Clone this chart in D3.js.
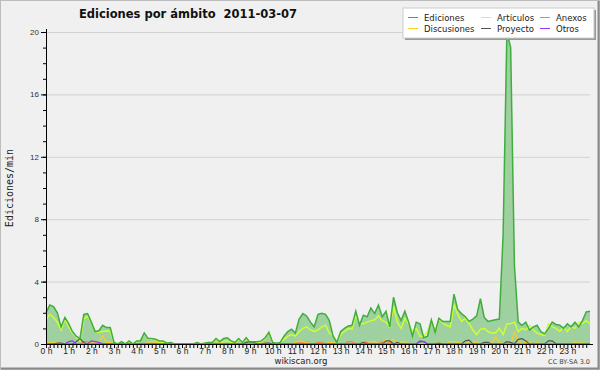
<!DOCTYPE html>
<html>
<head>
<meta charset="utf-8">
<script src="https://cdn.jsdelivr.net/npm/d3@7"></script>
<style>
  body { margin: 0; background: #f0f0f0; }
  svg { display: block; font-family: "DejaVu Sans", sans-serif; }
</style>
</head>
<body>
<svg width="600" height="370"></svg>
<script>
// valores cada 10 minutos (0 h ... 24 h)
const horas = d3.range(0, 24);
const yTicks = [0, 4, 8, 12, 16, 20];

const ediciones = [
  2.0, 2.5, 2.4, 2.0, 1.1, 1.7, 1.3, 0.8, 0.5, 0.35, 1.9, 1.95,
  1.4, 0.8, 0.85, 1.2, 1.05, 1.05, 0.1, 0.0, 0.15, 0.0, 0.2, 0.0,
  0.2, 0.2, 0.7, 0.35, 0.35, 0.3, 0.2, 0.2, 0.05, 0.1, 0, 0,
  0, 0, 0, 0, 0.1, 0, 0.05, 0.1, 0.1, 0.35, 0.15, 0.35,
  0.4, 0.2, 0.1, 0.35, 0.1, 0.4, 0.1, 0.15, 0.15, 0.2, 0.4, 0.75,
  0.1, 0.05, 0.1, 0.5, 0.8, 0.95, 0.7, 1.6, 1.95, 1.8, 1.4, 1.1,
  1.9, 1.97, 1.9, 1.5, 0.5, 0.1, 0.8, 1.0, 1.15, 1.2, 2.1, 1.2,
  1.85, 1.75, 2.3, 1.95, 2.5, 1.75, 2.1, 1.1, 3.0, 2.0, 1.5, 2.1,
  1.4, 0.5, 1.4, 1.3, 0.4, 0.5, 1.55, 0.75, 1.65, 1.45, 1.45, 1.45,
  3.2, 2.2, 1.95, 1.75, 1.45, 1.6, 1.8, 2.9, 1.7, 1.45, 1.5, 1.55,
  1.6, 7.0, 20.0, 19.0, 5.0, 1.4, 1.2, 1.4, 0.9, 1.1, 1.2, 0.8,
  0.65, 1.0, 1.4, 1.25, 1.2, 1.0, 1.3, 1.1, 1.4, 1.1, 1.5, 2.05,
  2.1
];
const articulos = [
  1.55, 1.9, 1.7, 1.4, 0.9, 1.6, 1.1, 0.7, 0.45, 0.2, 1.6, 1.8,
  1.35, 0.8, 0.75, 0.8, 0.85, 0.8, 0.05, 0, 0.1, 0, 0.15, 0,
  0.15, 0.2, 0.65, 0.3, 0.3, 0.25, 0.1, 0.1, 0.05, 0.1, 0, 0,
  0, 0, 0, 0, 0, 0, 0.05, 0.1, 0.1, 0.3, 0.1, 0.15,
  0.2, 0.1, 0.05, 0.3, 0.05, 0.3, 0.05, 0.1, 0.1, 0.15, 0.35, 0.75,
  0.05, 0, 0.1, 0.3, 0.5, 0.6, 0.5, 0.8, 1.0, 1.1, 0.9, 0.8,
  0.9, 1.1, 1.2, 0.7, 0.55, 0.1, 0.6, 0.8, 1.0, 0.95, 1.85, 1.3,
  1.3, 1.4, 1.5, 1.55, 1.8, 1.5, 1.4, 1.1, 2.4, 1.4, 1.0, 1.65,
  1.3, 0.8, 1.0, 0.5, 0.5, 0.8, 1.5, 0.8, 1.6, 1.35, 1.2, 1.1,
  2.5, 1.9, 1.45, 1.65, 1.3, 0.9, 0.6, 0.95, 1.0, 0.8, 0.7, 0.7,
  1.0, 0.6, 1.3, 1.3, 1.4, 0.8, 1.0, 0.9, 1.2, 0.9, 0.7, 0.6,
  0.55, 1.3, 1.1, 1.0, 0.8, 1.1, 0.8, 1.1, 1.0, 1.4, 1.3, 1.5,
  1.3
];
const discusiones = [
  0, 0.1, 0.15, 0.1, 0, 0, 0, 0, 0, 0, 0, 0,
  0.05, 0.05, 0.1, 0.55, 0.1, 0.1, 0, 0, 0, 0, 0, 0,
  0, 0, 0, 0.1, 0.15, 0.1, 0, 0, 0, 0, 0, 0,
  0, 0, 0, 0, 0.1, 0, 0, 0, 0, 0.05, 0.05, 0,
  0, 0, 0, 0, 0, 0, 0, 0, 0, 0, 0.1, 0,
  0, 0, 0, 0, 0, 0, 0.1, 0.2, 0.15, 0.1, 0, 0,
  0, 0, 0, 0.1, 0.1, 0, 0, 0, 0, 0, 0, 0,
  0, 0, 0.15, 0.15, 0, 0, 0.3, 0.2, 0.3, 0, 0.15, 0.15,
  0, 0, 0, 0, 0, 0, 0, 0, 0.1, 0, 0, 0.15,
  0.15, 0.1, 0, 0, 0.15, 0.15, 0.1, 0, 0, 0, 0.1, 0.45,
  0.1, 0, 0.1, 0, 0.75, 0.2, 0, 0.1, 0.1, 0, 0.1, 0,
  0, 0, 0, 0, 0, 0, 0, 0, 0.15, 0, 0.1, 0,
  0
];
const anexos = [
  0, 0, 0, 0, 0, 0, 0, 0, 0, 0, 0.15, 0.15,
  0, 0, 0, 0, 0, 0, 0, 0, 0, 0, 0, 0,
  0, 0, 0, 0, 0, 0, 0, 0, 0, 0, 0, 0,
  0, 0, 0, 0, 0, 0, 0, 0, 0, 0, 0, 0,
  0, 0, 0, 0, 0, 0, 0, 0, 0, 0, 0, 0,
  0, 0, 0, 0, 0, 0, 0, 0.15, 0.1, 0.15, 0, 0,
  0.1, 0.1, 0, 0, 0, 0, 0, 0, 0.15, 0.15, 0, 0,
  0.1, 0.1, 0, 0, 0, 0.15, 0, 0.1, 0, 0, 0, 0,
  0, 0, 0, 0, 0, 0, 0, 0, 0, 0, 0, 0,
  0, 0, 0, 0, 0, 0, 0, 0, 0, 0, 0, 0,
  0, 0, 0, 0, 0, 0, 0, 0, 0, 0, 0, 0,
  0, 0, 0, 0, 0, 0, 0, 0, 0, 0, 0, 0,
  0
];
const proyecto = [
  0, 0, 0, 0.05, 0.05, 0, 0, 0, 0.15, 0.35, 0.1, 0,
  0, 0, 0, 0, 0, 0, 0, 0, 0, 0, 0, 0,
  0, 0, 0, 0, 0, 0, 0, 0, 0, 0, 0, 0,
  0, 0, 0, 0, 0, 0, 0, 0, 0, 0, 0, 0,
  0, 0, 0, 0, 0, 0.1, 0.15, 0.1, 0, 0, 0.05, 0.05,
  0, 0, 0, 0, 0, 0, 0, 0, 0, 0, 0, 0,
  0, 0, 0, 0, 0, 0, 0, 0, 0, 0, 0, 0,
  0.1, 0, 0, 0, 0, 0, 0.2, 0.2, 0, 0.1, 0, 0,
  0, 0, 0, 0.15, 0.15, 0, 0, 0, 0.05, 0, 0, 0,
  0, 0, 0, 0.2, 0.25, 0, 0, 0, 0.1, 0.1, 0, 0,
  0, 0, 0.15, 0.1, 0, 0.3, 0.35, 0.2, 0, 0, 0, 0,
  0, 0.2, 0.2, 0, 0, 0, 0, 0, 0, 0, 0, 0,
  0
];
const otros = [
  0, 0, 0, 0, 0, 0, 0.15, 0.2, 0, 0, 0, 0,
  0.2, 0.15, 0.1, 0, 0, 0, 0, 0, 0, 0, 0, 0,
  0, 0, 0, 0, 0, 0, 0, 0, 0, 0, 0, 0,
  0, 0, 0, 0, 0, 0, 0, 0, 0, 0, 0, 0,
  0, 0, 0, 0, 0, 0, 0, 0, 0, 0, 0, 0,
  0, 0, 0, 0, 0, 0, 0, 0, 0, 0, 0, 0,
  0, 0, 0, 0, 0, 0, 0, 0, 0, 0, 0, 0,
  0, 0, 0, 0, 0, 0, 0, 0, 0, 0, 0, 0,
  0, 0, 0, 0.2, 0.15, 0, 0, 0, 0, 0, 0, 0,
  0, 0, 0, 0, 0, 0, 0, 0, 0, 0, 0, 0,
  0, 0, 0, 0, 0, 0, 0, 0, 0, 0, 0, 0,
  0, 0, 0, 0, 0, 0, 0, 0, 0, 0, 0, 0,
  0
];

const series = [
  { nombre: "Ediciones", valores: ediciones, color: "#3fae3f" },
  { nombre: "Artículos", valores: articulos, color: "#ccff33" },
  { nombre: "Anexos", valores: anexos, color: "#ff7f3f" },
  { nombre: "Discusiones", valores: discusiones, color: "#ffcc22" },
  { nombre: "Proyecto", valores: proyecto, color: "#555555" },
  { nombre: "Otros", valores: otros, color: "#9933ff" }
];

const svg = d3.select("svg");
const width = +svg.attr("width");
const height = +svg.attr("height");
const margin = { top: 32, right: 10, bottom: 26, left: 46 };
const innerWidth = width - margin.left - margin.right;
const innerHeight = height - margin.top - margin.bottom;

// fondo y marco
svg.append("rect").attr("width", width).attr("height", height).attr("fill", "#f0f0f0");
svg.append("rect").attr("x", 0.5).attr("y", 0.5).attr("width", width - 1).attr("height", height - 1)
  .attr("fill", "none").attr("stroke", "#bdbdbd");
svg.append("path").attr("d", `M1,${height - 1.5}H${width - 1.5}V1`)
  .attr("fill", "none").attr("stroke", "#8a8a8a").attr("stroke-width", 2);

const xScale = d3.scaleLinear().domain([0, 24]).range([0, innerWidth]);
const yScale = d3.scaleLinear().domain([0, 20]).range([innerHeight, 0]);

const g = svg.append("g").attr("transform", `translate(${margin.left},${margin.top})`);

// rejilla
g.append("g").selectAll("line")
  .data(yTicks.filter(d => d > 0))
  .enter().append("line")
  .attr("x1", 0).attr("x2", innerWidth)
  .attr("y1", d => yScale(d) + 0.5).attr("y2", d => yScale(d) + 0.5)
  .attr("stroke", "#d2d2d2");

const x = (d, i) => xScale(i / 6);

const area = d3.area().x(x).y0(yScale(0)).y1(d => yScale(d));
const line = d3.line().x(x).y(d => yScale(d));

g.append("path").datum(ediciones).attr("d", area).attr("fill", "#9fd09f");

series.slice(1).forEach(s => {
  g.append("path").datum(s.valores).attr("d", line)
    .attr("fill", "none").attr("stroke", s.color)
    .attr("stroke-width", s.nombre === "Artículos" ? 1.5 : 1.2);
});
g.append("path").datum(ediciones).attr("d", line)
  .attr("fill", "none").attr("stroke", series[0].color).attr("stroke-width", 1.5);

// ejes
const yAxisMinor = d3.axisLeft(yScale).ticks(20).tickSize(3).tickFormat("");
g.append("g").call(yAxisMinor)
  .call(a => a.select(".domain").remove())
  .call(a => a.selectAll("text").remove());
const yAxis = d3.axisLeft(yScale).tickValues(yTicks).tickSize(5).tickPadding(2);
g.append("g").call(yAxis)
  .call(a => a.selectAll("text").attr("font-size", 8).attr("fill", "#333"))
  .call(a => a.select(".domain").attr("d", `M0.5,${innerHeight}V-3`));

const xAxisMinor = d3.axisBottom(xScale).tickValues(d3.range(0, 144).map(i => i / 6)).tickSize(4).tickFormat("");
g.append("g").attr("transform", `translate(0,${innerHeight})`).call(xAxisMinor)
  .call(a => a.selectAll("text").remove())
  .call(a => a.select(".domain").attr("d", `M-3,0.5H${innerWidth + 3}`));
const xAxis = d3.axisBottom(xScale).tickValues(horas).tickSize(0).tickPadding(4)
  .tickFormat(d => d + " h");
g.append("g").attr("transform", `translate(0,${innerHeight})`).call(xAxis)
  .call(a => a.select(".domain").remove())
  .call(a => a.selectAll("text").attr("font-size", 8.5).attr("fill", "#222"));

// textos
svg.append("text").attr("x", 188).attr("y", 18).attr("text-anchor", "middle")
  .attr("font-size", 11.5).attr("font-weight", "bold").attr("fill", "#111")
  .attr("xml:space", "preserve")
  .text("Ediciones por ámbito  2011-03-07");

svg.append("text").attr("transform", "translate(13,188) rotate(-90)")
  .attr("text-anchor", "middle").attr("font-size", 10)
  .attr("font-family", "DejaVu Sans Mono").attr("fill", "#222")
  .text("Ediciones/min");

svg.append("text").attr("x", 301).attr("y", 364).attr("text-anchor", "middle")
  .attr("font-size", 8.5).attr("fill", "#222").text("wikiscan.org");

svg.append("text").attr("x", 590).attr("y", 364).attr("text-anchor", "end")
  .attr("font-size", 6.5).attr("fill", "#444").text("CC BY-SA 3.0");

// leyenda
const leyenda = svg.append("g");
leyenda.append("rect").attr("x", 405).attr("y", 10).attr("width", 191).attr("height", 30).attr("fill", "#999");
leyenda.append("rect").attr("x", 403).attr("y", 8).attr("width", 191).attr("height", 30)
  .attr("fill", "#fff").attr("stroke", "#ccc");

const colX = [408, 481, 540];
const filaY = [21, 32];
const orden = ["Ediciones", "Artículos", "Anexos", "Discusiones", "Proyecto", "Otros"];
orden.forEach((nombre, i) => {
  const s = series.find(d => d.nombre === nombre);
  const cx = colX[i % 3], cy = filaY[Math.floor(i / 3)];
  leyenda.append("line").attr("x1", cx).attr("x2", cx + 10).attr("y1", cy - 3.5).attr("y2", cy - 3.5)
    .attr("stroke", s.color).attr("stroke-width", 1);
  leyenda.append("text").attr("x", cx + 16).attr("y", cy).attr("font-size", 8.5)
    .attr("fill", "#222").text(nombre);
});
</script>
</body>
</html>
